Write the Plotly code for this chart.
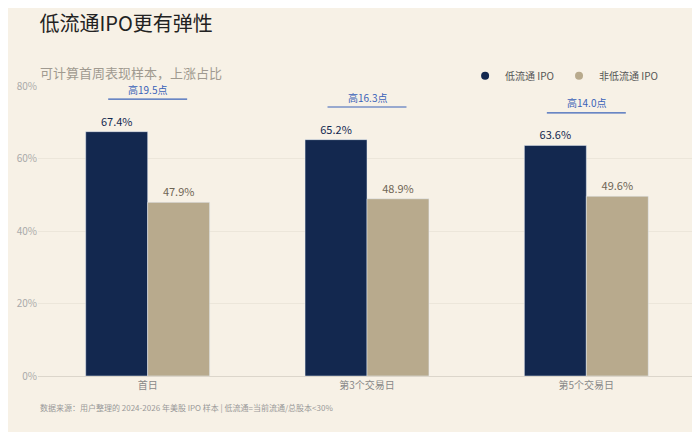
import plotly.graph_objects as go

categories = ["首日", "第3个交易日", "第5个交易日"]
low_float = [67.4, 65.2, 63.6]
non_low_float = [47.9, 48.9, 49.6]
diff_labels = ["高19.5点", "高16.3点", "高14.0点"]
y_ticks = [0, 20, 40, 60, 80]

F = "Noto Sans CJK SC"
C1, C2 = "#13284f", "#b8aa8d"
fig = go.Figure()
fig.add_bar(x=categories, y=low_float, name="低流通 IPO", marker_color=C1, showlegend=False,
            text=[f"{v:.1f}%" for v in low_float], textposition="outside",
            textfont=dict(color=C1, size=11), cliponaxis=False)
fig.add_bar(x=categories, y=non_low_float, name="非低流通 IPO", marker_color=C2, showlegend=False,
            text=[f"{v:.1f}%" for v in non_low_float], textposition="outside",
            textfont=dict(color="#6e6454", size=11), cliponaxis=False)
for name, c in [("低流通 IPO", C1), ("非低流通 IPO", C2)]:
    fig.add_scatter(x=[None], y=[None], mode="markers", name=name,
                    marker=dict(color=c, size=8, symbol="circle"))

for i, (v, lab) in enumerate(zip(low_float, diff_labels)):
    y = v + 9
    fig.add_shape(type="line", xref="x", yref="y", x0=i - 0.18, x1=i + 0.18, y0=y, y1=y,
                  line=dict(color="#3a62b8", width=1.2))
    fig.add_annotation(x=i, y=y, text=lab, showarrow=False, yshift=10,
                       font=dict(color="#3a62b8", size=10, family=F))

fig.update_layout(
    width=700, height=432, barmode="group", bargap=0.435, bargroupgap=0,
    paper_bgcolor="#f7f1e6", plot_bgcolor="#f7f1e6",
    font=dict(family=F, color="#8a8a8a"),
    margin=dict(l=30, r=12, t=78, b=64, autoexpand=False),
    title=dict(text="低流通IPO更有弹性", x=0.045, y=0.962, xanchor="left", yanchor="middle",
               font=dict(size=20, color="#222222", family=F)),
    legend=dict(orientation="h", x=0.95, xanchor="right", y=0.985, yanchor="bottom",
                font=dict(size=10, color="#555555"), itemwidth=30, bgcolor="rgba(0,0,0,0)"),
    xaxis=dict(showline=True, linecolor="#dcd6cb", tickfont=dict(size=10, color="#888888"), ticks=""),
    yaxis=dict(range=[0, 80], tickvals=y_ticks, ticktext=[f"{t}%" for t in y_ticks],
               gridcolor="#ece6da", zeroline=False, tickfont=dict(size=10, color="#aaaaaa")),
)
fig.add_annotation(text="可计算首周表现样本，上涨占比", xref="paper", yref="paper", x=0, y=1.085,
                   xanchor="left", showarrow=False, font=dict(size=13, color="#a09a90"))
fig.add_annotation(text="数据来源：用户整理的 2024-2026 年美股 IPO 样本 | 低流通=当前流通/总股本<30%",
                   xref="paper", yref="paper", x=0, y=-0.135, xanchor="left", showarrow=False,
                   font=dict(size=8, color="#999999"))
fig.write_html("out.html")
